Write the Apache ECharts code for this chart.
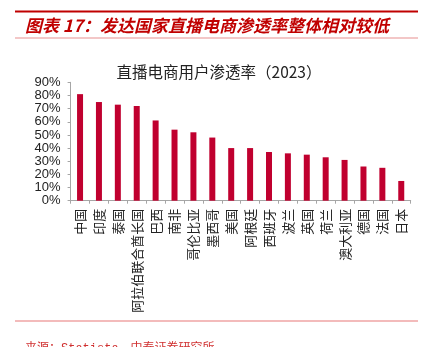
<!DOCTYPE html>
<html>
<head>
<meta charset="utf-8">
<script src="https://cdn.jsdelivr.net/npm/echarts@6/dist/echarts.min.js"></script>
<style>
html,body{margin:0;padding:0;background:#fff;}
#c{width:438px;height:347px;}
</style>
</head>
<body>
<div id="c"></div>
<script>
var categories = ['中国','印度','泰国','阿拉伯联合酋长国','巴西','南非','哥伦比亚','墨西哥','美国','阿根廷','西班牙','波兰','英国','荷兰','澳大利亚','德国','法国','日本'];
var penetration = [81,75,73,72,61,54,52,48,40,40,37,36,35,33,31,26,25,15];
var yTicks = {min:0, max:90, interval:10};
var headerTitle = '图表 17：发达国家直播电商渗透率整体相对较低';
var chartTitle = '直播电商用户渗透率（2023）';
var sourceText = '来源：Statista，中泰证券研究所';

var chart = echarts.init(document.getElementById('c'), null, {renderer:'canvas'});
chart.setOption({
  animation:false,
  backgroundColor:'#fff',
  title:{
    text:chartTitle, left:'center', top:59,
    textStyle:{fontSize:15.5, fontWeight:'normal', color:'#222', fontFamily:'Noto Sans CJK SC'}
  },
  grid:{left:70.6, right:27.3, top:82.3, bottom:146.3},
  xAxis:{
    type:'category', data:categories,
    axisLine:{lineStyle:{color:'#a6a6a6', width:1}},
    axisTick:{show:true, length:3, lineStyle:{color:'#a6a6a6'}},
    axisLabel:{rotate:90, fontSize:13, margin:8, color:'#222', interval:0, fontFamily:'Noto Sans CJK SC'}
  },
  yAxis:{
    type:'value', min:yTicks.min, max:yTicks.max, interval:yTicks.interval,
    axisLine:{show:true, lineStyle:{color:'#a6a6a6', width:1}},
    axisTick:{show:true, length:3, lineStyle:{color:'#a6a6a6'}},
    splitLine:{show:false},
    axisLabel:{formatter:'{value}%', fontSize:13, margin:10, color:'#222', fontFamily:'Liberation Sans'}
  },
  series:[{
    type:'bar', data:penetration, barWidth:6,
    itemStyle:{color:'#c0002f'}
  }],
  graphic:[
    {type:'rect', shape:{x:15, y:10.5, width:403, height:2}, style:{fill:'#c00000'}},
    {type:'text', left:25, top:17, style:{text:headerTitle, fill:'#c00000', font:'italic bold 17px "Noto Sans CJK SC"'}},
    {type:'rect', shape:{x:15, y:37.5, width:403, height:1}, style:{fill:'#e89090'}},
    {type:'rect', shape:{x:15, y:320.5, width:403, height:1}, style:{fill:'#e87878'}},
    {type:'text', left:25, top:343, style:{text:sourceText, fill:'#d03030', font:'12px "Liberation Mono", "Noto Sans CJK SC"'}}
  ]
});
</script>
</body>
</html>
